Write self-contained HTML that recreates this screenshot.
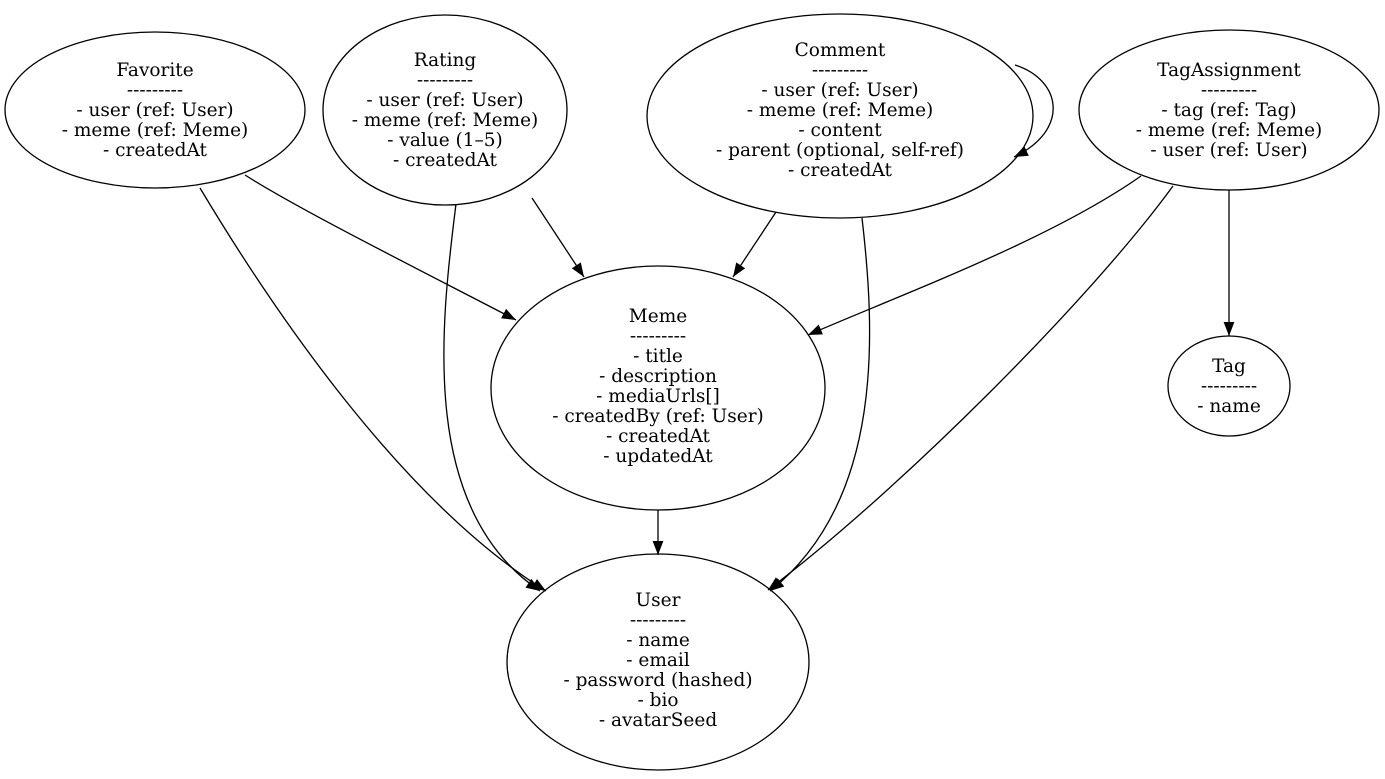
<!DOCTYPE html>
<html><head><meta charset="utf-8"><style>
html,body{margin:0;padding:0;background:#fff;}
svg text{font-family:"DejaVu Serif",serif;font-size:18.5px;fill:#000;text-anchor:middle;}
</style></head><body>
<svg width="1385" height="774" viewBox="0 0 1385 774" xmlns="http://www.w3.org/2000/svg">
<defs>
<marker id="b" markerWidth="14" markerHeight="14" refX="13" refY="5" orient="auto" markerUnits="userSpaceOnUse" viewBox="0 0 13 10"><path d="M0,0 L13,5 L0,10 Z" fill="#000"/></marker></defs>
<g fill="none" stroke="#000" stroke-width="1.3">
<ellipse cx="155" cy="110" rx="150" ry="78"/>
<ellipse cx="445" cy="110" rx="122" ry="95"/>
<ellipse cx="840" cy="116" rx="193" ry="102"/>
<ellipse cx="1229" cy="110" rx="150" ry="80"/>
<ellipse cx="658" cy="388" rx="167" ry="122"/>
<ellipse cx="1229" cy="386" rx="61" ry="50"/>
<ellipse cx="658" cy="662" rx="151" ry="108"/>
<path d="M245,175 C300,210 420,270 516,320" marker-end="url(#b)"/>
<path d="M200,188 C270,305 400,500 546,591" marker-end="url(#b)"/>
<path d="M532,198 L584,277" marker-end="url(#b)"/>
<path d="M456,204 C440,330 420,510 540,591" marker-end="url(#b)"/>
<path d="M776,212 L733,277" marker-end="url(#b)"/>
<path d="M862,218 C875,330 885,500 770,591" marker-end="url(#b)"/>
<path d="M1015,65 C1062,80 1070,130 1014,157" marker-end="url(#b)"/>
<path d="M1141,176 C1050,240 900,295 808,335" marker-end="url(#b)"/>
<path d="M1173,186 C1090,300 900,490 768,590" marker-end="url(#b)"/>
<path d="M1229,190 L1229,336" marker-end="url(#b)"/>
<path d="M658,510 L658,555" marker-end="url(#b)"/>
</g>
<text x="155" y="76">Favorite</text><text x="155" y="96">---------</text><text x="155" y="116">- user (ref: User)</text><text x="155" y="136">- meme (ref: Meme)</text><text x="155" y="156">- createdAt</text>
<text x="445" y="66">Rating</text><text x="445" y="86">---------</text><text x="445" y="106">- user (ref: User)</text><text x="445" y="126">- meme (ref: Meme)</text><text x="445" y="146">- value (1–5)</text><text x="445" y="166">- createdAt</text>
<text x="840" y="56">Comment</text><text x="840" y="76">---------</text><text x="840" y="96">- user (ref: User)</text><text x="840" y="116">- meme (ref: Meme)</text><text x="840" y="136">- content</text><text x="840" y="156">- parent (optional, self-ref)</text><text x="840" y="176">- createdAt</text>
<text x="1229" y="76">TagAssignment</text><text x="1229" y="96">---------</text><text x="1229" y="116">- tag (ref: Tag)</text><text x="1229" y="136">- meme (ref: Meme)</text><text x="1229" y="156">- user (ref: User)</text>
<text x="658" y="322">Meme</text><text x="658" y="342">---------</text><text x="658" y="362">- title</text><text x="658" y="382">- description</text><text x="658" y="402">- mediaUrls[]</text><text x="658" y="422">- createdBy (ref: User)</text><text x="658" y="442">- createdAt</text><text x="658" y="462">- updatedAt</text>
<text x="1229" y="372">Tag</text><text x="1229" y="392">---------</text><text x="1229" y="412">- name</text>
<text x="658" y="606">User</text><text x="658" y="626">---------</text><text x="658" y="646">- name</text><text x="658" y="666">- email</text><text x="658" y="686">- password (hashed)</text><text x="658" y="706">- bio</text><text x="658" y="726">- avatarSeed</text>
</svg>
</body></html>
